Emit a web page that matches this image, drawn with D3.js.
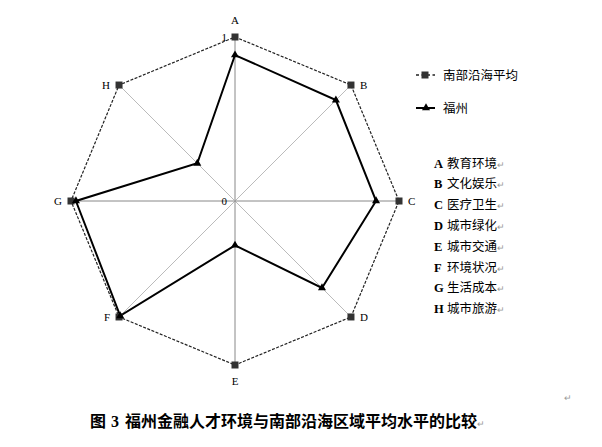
<!DOCTYPE html>
<html><head><meta charset="utf-8">
<script src="https://cdn.jsdelivr.net/npm/d3@7"></script>
<style>body{margin:0;background:#fff}</style>
</head><body>
<svg id="c" width="602" height="447"></svg>
<script>
const axes = ["A","B","C","D","E","F","G","H"];
const axisNames = ["教育环境","文化娱乐","医疗卫生","城市绿化","城市交通","环境状况","生活成本","城市旅游"];
const avgValues = [1,1,1,1,1,1,1,1];
const fuzhouValues = [0.89,0.87,0.86,0.75,0.27,0.99,0.97,0.325];
const seriesNames = ["南部沿海平均","福州"];
const radialTicks = [0,1];
const title = "福州金融人才环境与南部沿海区域平均水平的比较";

const svg = d3.select("#c");
const cx = 235, cy = 201;
const r = d3.scaleLinear().domain([0,1]).range([0,164]);
const ang = d3.scalePoint().domain(axes).range([0, 2*Math.PI*7/8]);
const pt = (k,v)=>[cx + r(v)*Math.sin(ang(k)), cy - r(v)*Math.cos(ang(k))];

// spokes
axes.forEach((k,i)=>{
  const p = pt(k,1);
  svg.append("line").attr("x1",cx).attr("y1",cy).attr("x2",p[0]).attr("y2",p[1])
    .attr("stroke", i%2===0 ? "#888" : "#aaa").attr("stroke-width", i%2===0?1:0.8);
});

const line = d3.line().curve(d3.curveLinearClosed);
// average dashed
svg.append("path").attr("d", line(axes.map((k,i)=>pt(k,avgValues[i]))))
  .attr("fill","none").attr("stroke","#222").attr("stroke-width",1.2).attr("stroke-dasharray","3,1.5");
// fuzhou
svg.append("path").attr("d", line(axes.map((k,i)=>pt(k,fuzhouValues[i]))))
  .attr("fill","none").attr("stroke","#000").attr("stroke-width",2);

// markers
axes.forEach((k,i)=>{
  const p = pt(k,avgValues[i]);
  svg.append("rect").attr("x",p[0]-3.5).attr("y",p[1]-3.5).attr("width",7).attr("height",7).attr("fill","#333");
});
const tri = d3.symbol().type(d3.symbolTriangle).size(28);
axes.forEach((k,i)=>{
  const p = pt(k,fuzhouValues[i]);
  svg.append("path").attr("d",tri()).attr("transform",`translate(${p[0]},${p[1]})`).attr("fill","#000");
});

// axis labels
const lab = {A:[0,-13,"middle"],B:[9,4,"start"],C:[9,4,"start"],D:[9,4,"start"],E:[0,20,"middle"],F:[-9,4,"end"],G:[-9,4,"end"],H:[-9,4,"end"]};
axes.forEach(k=>{
  const p = pt(k,1), o = lab[k];
  svg.append("text").attr("x",p[0]+o[0]).attr("y",p[1]+o[1]).attr("text-anchor",o[2])
    .attr("font-family","Liberation Serif, serif").attr("font-size",11).attr("fill","#000").text(k);
});
// radial tick labels
radialTicks.forEach(t=>{
  svg.append("text").attr("x",cx-8).attr("y",cy - r(t) + 4).attr("text-anchor","end")
    .attr("font-family","Liberation Serif, serif").attr("font-size",11).text(t);
});

// legend
const lg = svg.append("g");
const ly = [75,108];
lg.append("line").attr("x1",416).attr("x2",435).attr("y1",ly[0]).attr("y2",ly[0])
  .attr("stroke","#222").attr("stroke-width",1.5).attr("stroke-dasharray","3,2.5");
lg.append("rect").attr("x",425-3.5).attr("y",ly[0]-3.5).attr("width",7).attr("height",7).attr("fill","#333");
lg.append("line").attr("x1",416).attr("x2",435).attr("y1",ly[1]).attr("y2",ly[1])
  .attr("stroke","#000").attr("stroke-width",2);
lg.append("path").attr("d",tri()).attr("transform",`translate(426,${ly[1]})`).attr("fill","#000");
seriesNames.forEach((s,i)=>{
  lg.append("text").attr("x",443).attr("y",ly[i]+4.5).attr("font-family","Noto Sans CJK SC").attr("font-size",12.5).text(s);
});

// axis name list
axes.forEach((k,i)=>{
  const y = 163 + i*20.8 + 4.5;
  const t = svg.append("text").attr("x",434).attr("y",y).attr("font-size",12.5);
  t.append("tspan").attr("font-family","Liberation Serif, serif").attr("font-weight","bold").text(k);
  t.append("tspan").attr("x",447).attr("font-family","Noto Sans CJK SC").text(axisNames[i]);
  t.append("tspan").attr("font-family","Noto Sans CJK SC").attr("font-size",9).attr("fill","#999").text("↵");
});

// title
const tt = svg.append("text").attr("x",90).attr("y",427).attr("font-weight","bold").attr("font-size",16);
tt.append("tspan").attr("font-family","Noto Sans CJK SC").text("图");
tt.append("tspan").attr("x",111).attr("font-family","Liberation Serif, serif").text("3");
tt.append("tspan").attr("x",125).attr("font-family","Noto Sans CJK SC").text(title);
tt.append("tspan").attr("font-family","Noto Sans CJK SC").attr("font-size",9).attr("font-weight","normal").attr("fill","#999").text("↵");
svg.append("text").attr("x",564).attr("y",401).attr("font-family","Noto Sans CJK SC").attr("font-size",9).attr("fill","#999").text("↵");
</script>
</body></html>
